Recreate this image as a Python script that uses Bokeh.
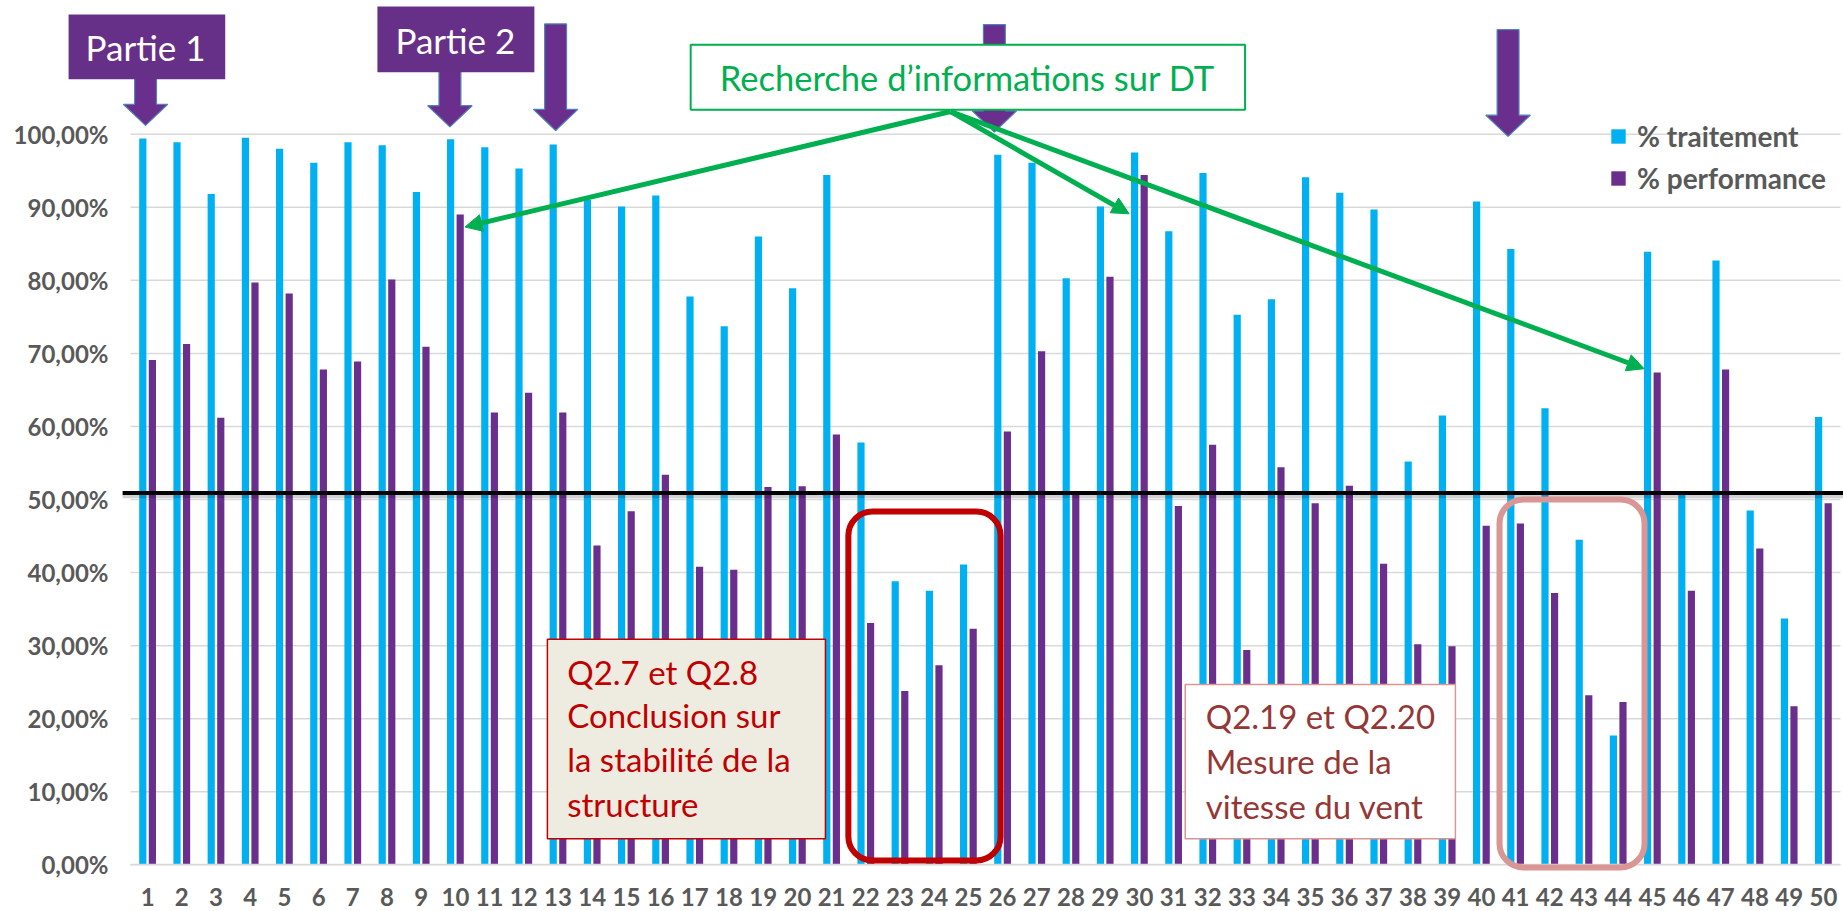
from bokeh.plotting import figure
from bokeh.models import (Range1d, FixedTicker, BoxAnnotation, Label, Arrow, NormalHead,
                          PolyAnnotation, Legend, LegendItem, ColumnDataSource)
from bokeh.transform import dodge
from bokeh.embed import file_html
from bokeh.resources import INLINE

# ---------------- data ----------------
questions = list(range(1, 51))
traitement = [99.4, 98.9, 91.8, 99.5, 98.0, 96.1, 98.9, 98.5, 92.1, 99.3,
              98.2, 95.3, 98.6, 91.0, 90.1, 91.6, 77.8, 73.7, 86.0, 78.9,
              94.4, 57.8, 38.8, 37.5, 41.1, 97.2, 96.1, 80.3, 90.1, 97.5,
              86.7, 94.7, 75.3, 77.4, 94.1, 92.0, 89.7, 55.2, 61.5, 90.8,
              84.3, 62.5, 44.5, 17.7, 83.9, 51.0, 82.7, 48.5, 33.7, 61.3]
performance = [69.1, 71.3, 61.2, 79.7, 78.2, 67.8, 68.9, 80.1, 70.9, 89.0,
               61.9, 64.6, 61.9, 43.7, 48.4, 53.4, 40.8, 40.4, 51.7, 51.8,
               58.9, 33.1, 23.8, 27.3, 32.3, 59.3, 70.3, 50.9, 80.5, 94.4,
               49.1, 57.5, 29.4, 54.4, 49.5, 51.9, 41.2, 30.2, 29.9, 46.4,
               46.7, 37.2, 23.2, 22.3, 67.4, 37.5, 67.8, 43.3, 21.7, 49.5]
series_names = ["% traitement", "% performance"]
y_ticks = [0, 10, 20, 30, 40, 50, 60, 70, 80, 90, 100]
y_tick_labels = ["0,00%", "10,00%", "20,00%", "30,00%", "40,00%", "50,00%",
                 "60,00%", "70,00%", "80,00%", "90,00%", "100,00%"]
seuil = 50.9

FONT = "Lato"
BLUE = "#00B0F0"
PURPLE = "#6A2E8C"
GREEN = "#00B050"
RED = "#C00000"
PINK = "#D99694"
GREY = "#595959"
GRID = "#D9D9D9"

p = figure(width=1843, height=911, x_range=Range1d(-3.301, 50.588), y_range=Range1d(-6.39, 118.30),
           output_backend="svg", toolbar_location=None, title=None,
           min_border=0, min_border_left=0, min_border_right=0, min_border_top=0,
           min_border_bottom=0)
p.outline_line_color = None
p.xgrid.visible = False
p.ygrid.visible = False

# gridlines (limited to the plot area of the categories)
grid_src = ColumnDataSource(dict(tick=y_ticks))
p.segment(x0=0.5, x1=50.5, y0="tick", y1="tick", source=grid_src,
          line_color=GRID, line_width=1.5)

# axes drawn inside the frame
p.yaxis.fixed_location = 0.5
p.yaxis.ticker = FixedTicker(ticks=y_ticks)
p.yaxis.major_label_overrides = {t: l for t, l in zip(y_ticks, y_tick_labels)}
p.yaxis.axis_line_color = None
p.yaxis.major_tick_line_color = None
p.yaxis.minor_tick_line_color = None
p.yaxis.major_tick_out = 0
p.yaxis.major_label_standoff = 22

p.xaxis.fixed_location = 0
p.xaxis.bounds = (0.5, 50.5)
p.xaxis.ticker = FixedTicker(ticks=questions)
p.xaxis.major_label_overrides = {q: str(q) for q in questions}
p.xaxis.axis_line_color = GRID
p.xaxis.axis_line_width = 1.5
p.xaxis.major_tick_line_color = None
p.xaxis.minor_tick_line_color = None
p.xaxis.major_tick_out = 0
p.xaxis.major_label_standoff = 23
for ax in (p.xaxis, p.yaxis):
    ax.major_label_text_font = FONT
    ax.major_label_text_font_style = "bold"
    ax.major_label_text_font_size = "24px"
    ax.major_label_text_color = GREY

# bars
src = ColumnDataSource(dict(q=questions, t=traitement, perf=performance))
rt = p.vbar(x=dodge("q", -0.14, range=p.x_range), top="t", width=0.21, source=src,
            fill_color=BLUE, line_color=None)
rp = p.vbar(x=dodge("q", 0.14, range=p.x_range), top="perf", width=0.21, source=src,
            fill_color=PURPLE, line_color=None)

# threshold line (with soft shadow)
p.line(x=[0.27, 50.588], y=[seuil - 0.45, seuil - 0.45], line_color="black",
       line_alpha=0.18, line_width=4)
p.line(x=[0.27, 50.588], y=[seuil, seuil], line_color="black", line_width=4)

# rounded highlight boxes
p.add_layout(BoxAnnotation(left=21.49, right=25.94, bottom=0.59, top=48.36,
                           fill_color=None, line_color=RED, line_alpha=1, line_width=6,
                           border_radius=24))
p.add_layout(BoxAnnotation(left=40.53, right=44.77, bottom=-0.37, top=50.0,
                           fill_color=None, line_color=PINK, line_alpha=1, line_width=6,
                           border_radius=24))

# text boxes
p.add_layout(BoxAnnotation(left=12.69, right=20.82, bottom=3.57, top=30.88,
                           fill_color="#EEECE1", fill_alpha=1, line_color=RED, line_alpha=1,
                           line_width=1.5))
for txt, yv in zip(["Q2.7 et Q2.8", "Conclusion sur", "la stabilité de la", "structure"],
                   [26.4, 20.45, 14.5, 8.3]):
    p.add_layout(Label(x=13.27, y=yv, text=txt, text_font=FONT, text_font_size="33px",
                       text_color=RED, text_baseline="middle", text_align="left"))

p.add_layout(BoxAnnotation(left=31.34, right=39.24, bottom=3.56, top=24.68,
                           fill_color="white", fill_alpha=1, line_color=PINK, line_alpha=1,
                           line_width=1.5))
for txt, yv in zip(["Q2.19 et Q2.20", "Mesure de la", "vitesse du vent"],
                   [20.4, 14.25, 8.1]):
    p.add_layout(Label(x=31.94, y=yv, text=txt, text_font=FONT, text_font_size="33px",
                       text_color="#953735", text_baseline="middle", text_align="left"))

# purple block arrows (centre, top, tip)
arrows = [(0.94, 110.0, 101.2), (9.84, 110.0, 101.0), (12.93, 115.1, 100.5),
          (25.76, 115.0, 100.3), (40.78, 114.3, 99.7)]
sw, hw, hh = 0.32, 0.65, 2.9
for c, top, tip in arrows:
    xs = [c - sw, c + sw, c + sw, c + hw, c, c - hw, c - sw]
    ys = [top, top, tip + hh, tip + hh, tip, tip + hh, tip + hh]
    p.add_layout(PolyAnnotation(xs=xs, ys=ys, fill_color=PURPLE, fill_alpha=1,
                                line_color="#4F81BD", line_alpha=1, line_width=1.2))

# Partie boxes
for (l, r, b, t), txt, cx, cy in [((-1.31, 3.27, 107.53, 116.38), "Partie 1", 0.94, 111.9),
                                  ((7.72, 12.31, 108.49, 117.48), "Partie 2", 10.0, 112.95)]:
    p.add_layout(BoxAnnotation(left=l, right=r, bottom=b, top=t, fill_color="#673088",
                               fill_alpha=1, line_color=None))
    p.add_layout(Label(x=cx, y=cy, text=txt, text_font=FONT, text_font_size="35px",
                       text_color="white", text_align="center", text_baseline="middle"))

# green box
p.add_layout(BoxAnnotation(left=16.88, right=33.09, bottom=103.34, top=112.24,
                           fill_color="white", fill_alpha=1, line_color=GREEN, line_alpha=1,
                           line_width=2))
p.add_layout(Label(x=24.97, y=107.7, text="Recherche d’informations sur DT", text_font=FONT,
                   text_font_size="34.5px", text_color=GREEN, text_align="center",
                   text_baseline="middle"))

# green arrows
for xe, ye in [(10.28, 87.3), (29.70, 89.1), (44.76, 67.9)]:
    p.add_layout(Arrow(x_start=24.48, y_start=103.1, x_end=xe, y_end=ye,
                       line_color=GREEN, line_width=5,
                       end=NormalHead(size=17, fill_color=GREEN, line_color=GREEN)))

# legend
legend = Legend(items=[LegendItem(label=series_names[0], renderers=[rt]),
                       LegendItem(label=series_names[1], renderers=[rp])],
                location=(1609, 716), padding=0, margin=0, border_line_color=None,
                background_fill_alpha=0, label_text_font=FONT, label_text_font_style="bold",
                label_text_font_size="28px", label_text_color=GREY,
                glyph_width=18, glyph_height=18, label_standoff=10, spacing=8, label_height=24)
p.add_layout(legend)

open("out.html", "w").write(file_html(p, INLINE))
